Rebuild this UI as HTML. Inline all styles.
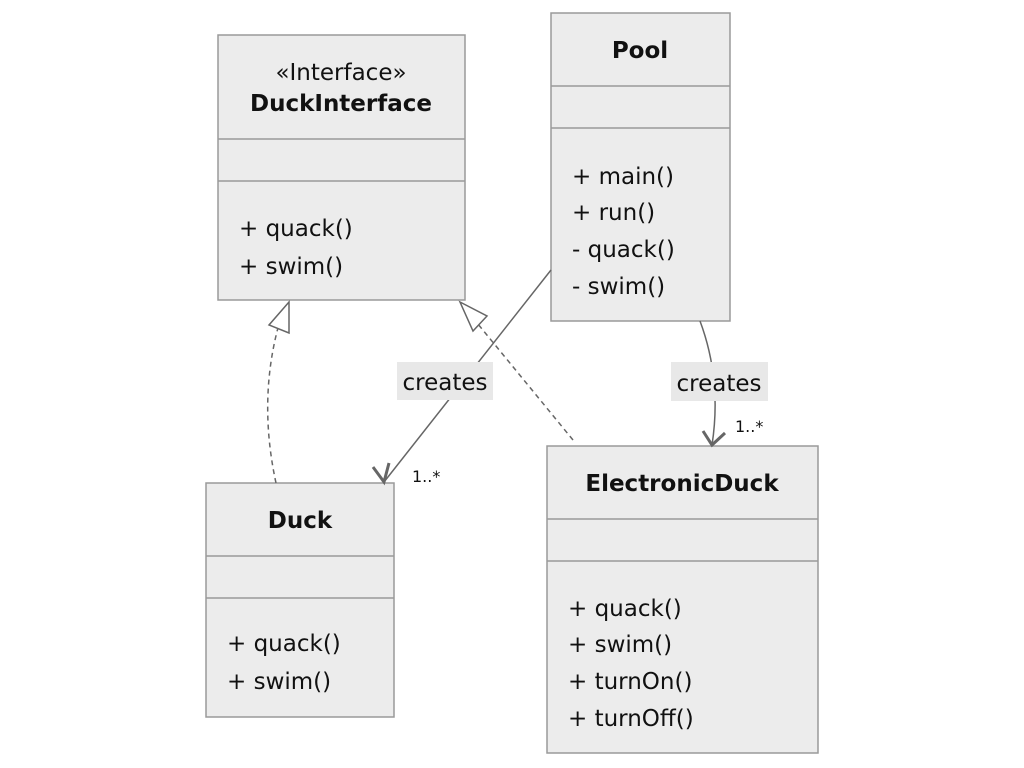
<!DOCTYPE html>
<html><head><style>body{margin:0;background:#fff}svg{display:block}text{font-family:"DejaVu Sans","Liberation Sans",sans-serif;fill:#111}</style></head><body>
<svg width="1024" height="768" viewBox="0 0 1024 768">
<g fill="#ececec" stroke="#9a9a9a" stroke-width="1.5">
<rect x="218" y="35" width="247" height="265"/><line x1="218" y1="139" x2="465" y2="139"/><line x1="218" y1="181" x2="465" y2="181"/>
<rect x="551" y="13" width="179" height="308"/><line x1="551" y1="86" x2="730" y2="86"/><line x1="551" y1="128" x2="730" y2="128"/>
<rect x="206" y="483" width="188" height="234"/><line x1="206" y1="556" x2="394" y2="556"/><line x1="206" y1="598" x2="394" y2="598"/>
<rect x="547" y="446" width="271" height="307"/><line x1="547" y1="519" x2="818" y2="519"/><line x1="547" y1="561" x2="818" y2="561"/>
</g>
<g stroke="#666" stroke-width="1.5" fill="none">
<path d="M276 483 Q258 400 279 324" stroke-dasharray="5,4"/>
<polygon points="289,302 269,325 289,333" fill="#fff"/>
<path d="M573 440 L473 318" stroke-dasharray="5,4"/>
<polygon points="460,302 487,316 473,331" fill="#fff"/>
<path d="M551 270 L384 482"/>
<path d="M373 467 L384 482 L389 463" stroke-width="3"/>
<path d="M700 321 Q722 380 712 445"/>
<path d="M703 431 L712 445 L725 433" stroke-width="3"/>
</g>
<rect x="397" y="362" width="96" height="38" fill="#e8e8e8"/>
<rect x="671" y="362" width="97" height="39" fill="#e8e8e8"/>
<g font-size="23">
<text x="445" y="390" text-anchor="middle">creates</text>
<text x="719" y="391" text-anchor="middle">creates</text>
<text x="341" y="80" text-anchor="middle">«Interface»</text>
<text x="341" y="111" text-anchor="middle" font-weight="bold">DuckInterface</text>
<text x="239" y="236">+ quack()</text><text x="239" y="274">+ swim()</text>
<text x="640" y="58" text-anchor="middle" font-weight="bold">Pool</text>
<text x="572" y="184">+ main()</text><text x="572" y="220">+ run()</text><text x="572" y="257">- quack()</text><text x="572" y="294">- swim()</text>
<text x="300" y="528" text-anchor="middle" font-weight="bold">Duck</text>
<text x="227" y="651">+ quack()</text><text x="227" y="689">+ swim()</text>
<text x="682" y="491" text-anchor="middle" font-weight="bold">ElectronicDuck</text>
<text x="568" y="616">+ quack()</text><text x="568" y="652">+ swim()</text><text x="568" y="689">+ turnOn()</text><text x="568" y="726">+ turnOff()</text>
</g>
<g font-size="16"><text x="412" y="482">1..*</text><text x="735" y="432">1..*</text></g>
</svg>
</body></html>
